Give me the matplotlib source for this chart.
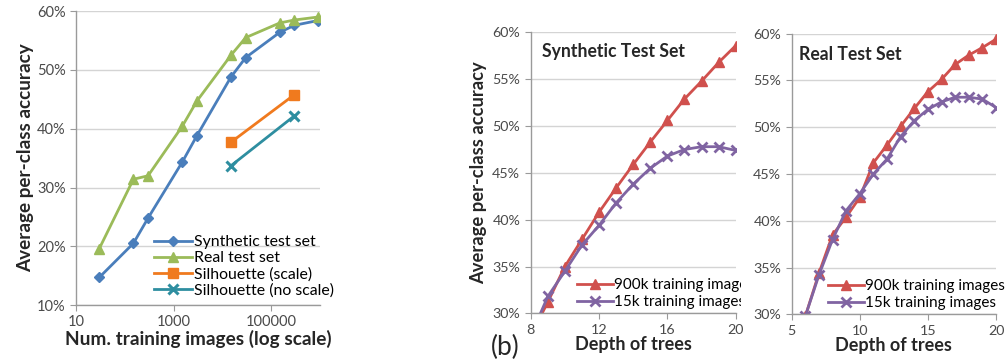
import matplotlib
matplotlib.use("Agg")
from matplotlib import pyplot as plt
from matplotlib.ticker import FuncFormatter, FixedLocator, NullLocator
from matplotlib.transforms import Bbox, TransformedBbox

plt.rcParams['font.family'] = ['Lato', 'DejaVu Sans']

# training set size experiment
train_sizes = [30, 150, 300, 1500, 3000, 15000, 30000, 150000, 300000, 900000]
synthetic_acc = [14.7, 20.5, 24.8, 34.3, 38.8, 48.8, 52.1, 56.4, 57.6, 58.4]
real_acc = [19.6, 31.4, 32.0, 40.4, 44.7, 52.5, 55.5, 58.0, 58.5, 59.0]
silhouette_sizes = [15000, 300000]
silhouette_scale = [37.7, 45.8]
silhouette_noscale = [33.7, 42.2]

# tree depth experiment
depth_syn = list(range(8, 21))
syn_900k = [27.6, 31.2, 35.0, 37.9, 40.8, 43.4, 45.9, 48.3, 50.6, 52.9, 54.8, 56.8, 58.6]
syn_15k = [27.6, 31.8, 34.5, 37.3, 39.4, 41.8, 43.8, 45.5, 46.8, 47.5, 47.8, 47.8, 47.4]
depth_real = list(range(6, 21))
real_900k = [29.8, 34.4, 38.5, 40.4, 42.5, 46.2, 48.1, 50.1, 52.0, 53.8, 55.1, 56.7, 57.7, 58.5, 59.4]
real_15k = [29.8, 34.2, 38.0, 41.1, 42.9, 45.0, 46.6, 49.0, 50.7, 51.9, 52.7, 53.2, 53.2, 53.0, 52.1]

BLUE = '#4a7ebb'
GREEN = '#9bbb59'
ORANGE = '#f07a1e'
TEAL = '#2e8ea0'
RED = '#d0504d'
PURPLE = '#8064a2'
GRID = '#d4d4d4'
SPINE = '#9a9a9a'
TICKTXT = '#4a4a4a'
LABEL = '#262626'

pct = FuncFormatter(lambda v, p: '%d%%' % round(v))


def style_axes(ax, tick_size):
    for s in ['top', 'right']:
        ax.spines[s].set_visible(False)
    for s in ['left', 'bottom']:
        ax.spines[s].set_color(SPINE)
        ax.spines[s].set_linewidth(1.0)
    ax.yaxis.grid(True, color=GRID, linewidth=1.0)
    ax.set_axisbelow(True)
    ax.tick_params(axis='both', colors=SPINE, labelcolor=TICKTXT,
                   labelsize=tick_size, length=4, direction='out')
    ax.yaxis.set_major_formatter(pct)


fig = plt.figure(figsize=(10.08, 3.61), dpi=100)

# left: accuracy vs number of training images
ax1 = fig.add_axes([0.0754, 0.155, 0.242, 0.814])
ax1.plot(train_sizes, synthetic_acc, color=BLUE, lw=2.0, marker='D', ms=5.5,
         label='Synthetic test set')
ax1.plot(train_sizes, real_acc, color=GREEN, lw=2.0, marker='^', ms=7.5,
         label='Real test set')
ax1.plot(silhouette_sizes, silhouette_scale, color=ORANGE, lw=2.0, marker='s', ms=7.5,
         label='Silhouette (scale)')
ax1.plot(silhouette_sizes, silhouette_noscale, color=TEAL, lw=2.0, marker='x', ms=7.5,
         mew=2.2, label='Silhouette (no scale)')
ax1.set_xscale('log')
ax1.set_xlim(10, 1e6)
ax1.set_ylim(10, 60)
ax1.set_yticks(range(10, 61, 10))
style_axes(ax1, 10.5)
ax1.xaxis.set_major_locator(FixedLocator([10, 1000, 100000]))
ax1.xaxis.set_minor_locator(NullLocator())
ax1.xaxis.set_major_formatter(FuncFormatter(lambda v, p: '%d' % round(v)))
ax1.set_xlabel('Num. training images (log scale)', fontsize=13.7, fontweight='bold',
               color=LABEL, labelpad=0)
ax1.set_ylabel('Average per-class accuracy', fontsize=13.6, fontweight='bold',
               color=LABEL, labelpad=2)
ax1.legend(loc='lower left', frameon=False, fontsize=11.4, handlelength=2.4,
           handletextpad=0.15, labelspacing=0.12, borderaxespad=0.0, borderpad=0.0,
           bbox_to_anchor=(0.32, 0.025))

# middle: synthetic test set vs tree depth
ax2 = fig.add_axes([0.5265, 0.132, 0.2034, 0.778])
ax2.plot(depth_syn, syn_900k, color=RED, lw=2.0, marker='^', ms=7,
         label='900k training images')
ax2.plot(depth_syn, syn_15k, color=PURPLE, lw=2.0, marker='x', ms=7, mew=2.0,
         label='15k training images')
ax2.set_xlim(8, 20)
ax2.set_ylim(30, 60)
ax2.set_xticks([8, 12, 16, 20])
ax2.set_yticks(range(30, 61, 5))
style_axes(ax2, 10.3)
ax2.set_xlabel('Depth of trees', fontsize=13, fontweight='bold', color=LABEL, labelpad=0)
ax2.set_ylabel('Average per-class accuracy', fontsize=13.2, fontweight='bold',
               color=LABEL, labelpad=4)
ax2.text(0.054, 0.962, 'Synthetic Test Set', transform=ax2.transAxes, fontsize=12.7,
         fontweight='bold', color=LABEL, va='top', ha='left')
leg2 = ax2.legend(loc='lower left', frameon=False, fontsize=11, handlelength=2.35,
                  handletextpad=0.1, labelspacing=0.2, borderaxespad=0.0, borderpad=0.0,
                  bbox_to_anchor=(0.225, 0.015))
# legend text runs into the next panel, cut it at the gap
cut = TransformedBbox(Bbox([[0.0, 0.0], [0.735, 1.0]]), fig.transFigure)
for t in leg2.get_texts():
    t.set_clip_box(cut)
    t.set_clip_on(True)
fig.text(0.501, 0.038, '(b)', fontsize=19, color=LABEL, ha='center', va='center')

# right: real test set vs tree depth
ax3 = fig.add_axes([0.7854, 0.129, 0.2027, 0.778])
ax3.plot(depth_real, real_900k, color=RED, lw=2.0, marker='^', ms=7,
         label='900k training images')
ax3.plot(depth_real, real_15k, color=PURPLE, lw=2.0, marker='x', ms=7, mew=2.0,
         label='15k training images')
ax3.set_xlim(5, 20)
ax3.set_ylim(30, 60)
ax3.set_xticks([5, 10, 15, 20])
ax3.set_yticks(range(30, 61, 5))
style_axes(ax3, 10.3)
ax3.set_xlabel('Depth of trees', fontsize=13, fontweight='bold', color=LABEL, labelpad=0)
ax3.text(0.037, 0.955, 'Real Test Set', transform=ax3.transAxes, fontsize=12.7,
         fontweight='bold', color=LABEL, va='top', ha='left')
ax3.legend(loc='lower left', frameon=False, fontsize=11, handlelength=2.35,
           handletextpad=0.1, labelspacing=0.2, borderaxespad=0.0, borderpad=0.0,
           bbox_to_anchor=(0.178, 0.015))

fig.savefig('out.png', dpi=100)
